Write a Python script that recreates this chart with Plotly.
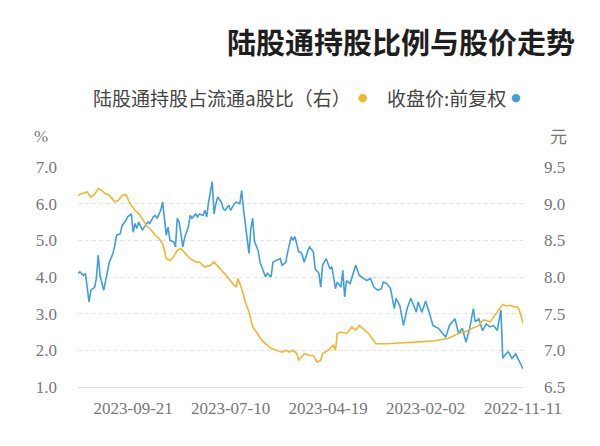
import pandas as pd
import plotly.graph_objects as go

# ---- data -------------------------------------------------------------
title_text = "陆股通持股比例与股价走势"
name_price = "收盘价:前复权"
name_ratio = "陆股通持股占流通a股比（右）"

start_date = "2022-11-11"
end_date = "2023-11-10"
holidays = ["2023-01-02", "2023-01-23", "2023-01-24", "2023-01-25", "2023-01-26",
            "2023-01-27", "2023-04-05", "2023-05-01", "2023-05-02", "2023-05-03",
            "2023-06-22", "2023-06-23", "2023-09-29", "2023-10-02", "2023-10-03",
            "2023-10-04", "2023-10-05", "2023-10-06"]
tick_dates = ["2022-11-11", "2023-02-02", "2023-04-19", "2023-07-10", "2023-09-21"]

# trading-day index -> value (closing price, 元)
price_day = [0, 2, 4, 6, 8, 10, 11, 12, 14, 16, 18, 20, 22, 24, 26, 27, 29, 31, 33, 35,
             37, 40, 42, 46, 49, 51, 53, 55, 57, 58, 60, 61, 63, 65, 67, 69, 70, 72, 74, 76,
             77, 79, 81, 83, 85, 87, 89, 91, 93, 94, 96, 97, 98, 99, 101, 102, 103, 104, 105, 107,
             109, 110, 111, 113, 114, 116, 117, 119, 120, 121, 122, 124, 125, 126, 128, 129, 131, 132, 134, 136,
             137, 139, 140, 142, 143, 144, 146, 147, 148, 149, 151, 152, 153, 154, 156, 157, 159, 160, 162, 163,
             164, 166, 167, 168, 169, 171, 172, 173, 174, 176, 177, 178, 180, 181, 182, 184, 185, 187, 188, 189,
             190, 192, 193, 194, 195, 196, 197, 199, 200, 201, 203, 204, 206, 207, 209, 210, 211, 212, 213, 215,
             216, 218, 219, 221, 222, 223, 225, 226, 228, 230, 231, 232, 233, 235, 236, 237, 238, 239, 241, 242]
price_val = [6.75, 6.84, 6.95, 6.89, 6.98, 6.93, 6.89, 7.55, 7.27, 7.34, 7.32, 7.36, 7.27, 7.43, 7.39, 7.57, 7.30, 7.11, 7.30, 7.23,
             7.43, 7.34, 7.18, 7.30, 7.34, 7.52, 7.67, 7.52, 7.66, 7.52, 7.66, 7.71, 7.57, 7.34, 7.61, 7.71, 7.57, 7.84, 7.91, 7.93,
             7.84, 7.82, 7.86, 7.98, 7.95, 7.98, 8.02, 8.16, 7.98, 7.91, 7.95, 7.73, 8.09, 7.86, 7.93, 7.84, 8.00, 8.14, 8.11, 8.25,
             8.16, 7.86, 8.05, 8.11, 8.34, 8.41, 8.36, 8.20, 8.30, 8.34, 8.34, 8.55, 8.50, 8.55, 8.34, 8.20, 8.16, 8.25, 8.23, 8.20,
             8.00, 8.05, 8.00, 8.14, 8.20, 8.36, 8.48, 8.80, 8.66, 8.32, 8.70, 8.93, 9.18, 9.00, 9.02, 9.00, 8.91, 8.98, 8.91, 8.93,
             9.02, 9.09, 9.00, 8.86, 9.30, 9.02, 8.82, 8.91, 8.84, 8.86, 8.82, 8.86, 8.80, 8.84, 8.68, 8.54, 8.41, 8.75, 8.80, 8.41,
             8.48, 8.50, 8.68, 8.57, 8.80, 9.02, 8.91, 8.80, 8.84, 8.82, 8.73, 8.75, 8.68, 8.64, 8.75, 8.66, 8.73, 8.61, 8.86, 8.82,
             8.77, 8.70, 8.59, 8.57, 8.43, 8.32, 8.20, 8.07, 7.82, 8.02, 8.30, 7.98, 7.86, 7.82, 7.66, 7.86, 8.05, 8.02, 8.07, 8.05]

# trading-day index -> value (陆股通 share of float, %)
ratio_day = [0, 2, 3, 5, 7, 9, 11, 12, 14, 16, 18, 20, 22, 24, 28, 32, 35, 41, 50, 60,
             67, 74, 80, 82, 84, 87, 89, 91, 93, 96, 99, 101, 102, 103, 104, 106, 109, 110, 112, 114,
             116, 119, 120, 122, 123, 125, 127, 129, 131, 134, 137, 139, 142, 145, 147, 149, 151, 153, 155, 156,
             157, 160, 163, 166, 168, 170, 173, 176, 178, 181, 184, 186, 188, 190, 192, 194, 195, 196, 198, 200,
             202, 204, 205, 207, 209, 211, 213, 215, 216, 218, 220, 222, 225, 227, 229, 231, 233, 235, 237, 240, 242]
ratio_val = [2.74, 3.10, 3.18, 3.18, 3.23, 3.21, 3.25, 3.18, 3.05, 2.91, 2.77, 2.82, 2.82, 2.68, 2.59, 2.50, 2.46, 2.32, 2.25, 2.23,
             2.20, 2.18, 2.18, 2.32, 2.46, 2.59, 2.68, 2.55, 2.64, 2.46, 2.50, 2.46, 2.00, 2.14, 2.09, 2.00, 1.91, 1.73, 1.68, 1.86,
             1.86, 1.91, 1.84, 1.73, 1.91, 2.00, 1.95, 2.00, 1.95, 2.00, 2.05, 2.14, 2.27, 2.50, 2.64, 3.05, 3.32, 3.68, 3.96, 3.73,
             3.77, 3.96, 4.14, 4.32, 4.41, 4.32, 4.27, 4.41, 4.41, 4.50, 4.68, 4.77, 4.73, 4.55, 4.45, 4.50, 4.73, 4.91, 5.05, 5.14,
             5.27, 5.36, 5.41, 5.59, 5.73, 5.82, 5.95, 6.14, 6.25, 6.23, 6.09, 6.05, 6.23, 6.27, 6.36, 6.41, 6.25, 6.18, 6.32, 6.27, 6.23]

# ---- trading calendar --------------------------------------------------
hol = set(pd.to_datetime(holidays))
trading_days = [d for d in pd.bdate_range(start_date, end_date) if d not in hol]
price_x = [trading_days[i] for i in price_day]
ratio_x = [trading_days[i] for i in ratio_day]

BLUE = "#3f9fdc"
YELLOW = "#f2b52e"
TICK_FONT = dict(family="Liberation Serif", size=17, color="#777777")
CJK = "Noto Sans CJK SC"

fig = go.Figure()
fig.add_trace(go.Scatter(x=price_x, y=price_val, mode="lines", name=name_price,
                         line=dict(color=BLUE, width=1.6), yaxis="y"))
fig.add_trace(go.Scatter(x=ratio_x, y=ratio_val, mode="lines", name=name_ratio,
                         line=dict(color=YELLOW, width=1.6), yaxis="y2"))

fig.update_layout(
    width=600, height=446,
    margin=dict(l=78, r=77, t=167, b=59),
    paper_bgcolor="white", plot_bgcolor="white",
    showlegend=False,
    title=dict(text="<b>" + title_text + "</b>", xref="container", yref="container",
               x=575 / 600, xanchor="right", y=1 - 44 / 446, yanchor="middle",
               font=dict(family=CJK, size=29, color="#1e1e1e")),
    xaxis=dict(type="date", range=[end_date, start_date],
               rangebreaks=[dict(bounds=["sat", "mon"]), dict(values=holidays)],
               tickvals=tick_dates, ticktext=tick_dates, tickfont=TICK_FONT,
               showgrid=False, showline=True, linecolor="#dcdcdc", linewidth=1,
               ticks="", ticklabelstandoff=6, zeroline=False),
    yaxis=dict(side="right", range=[6.5, 9.5], dtick=0.5, tickformat=".1f",
               tickfont=TICK_FONT, showgrid=True, gridcolor="#e3e3e3", griddash="4px,3px",
               gridwidth=1, zeroline=False, ticks="", ticklabelstandoff=20),
    yaxis2=dict(side="left", overlaying="y", range=[1, 7], dtick=1, tickformat=".1f",
                tickfont=TICK_FONT, showgrid=False, zeroline=False, ticks="",
                ticklabelstandoff=20),
    annotations=[
        dict(text="%", xref="paper", yref="paper", x=(50 - 78) / 445, y=(387 - 136) / 220,
             xanchor="right", yanchor="middle", showarrow=False, font=TICK_FONT),
        dict(text="元", xref="paper", yref="paper", x=(548 - 78) / 445, y=(387 - 135.5) / 220,
             xanchor="left", yanchor="middle", showarrow=False,
             font=dict(family=CJK, size=17, color="#777777")),
        dict(text=name_price, xref="paper", yref="paper", x=(508 - 78) / 445, y=(387 - 97) / 220,
             xanchor="right", yanchor="middle", showarrow=False,
             font=dict(family=CJK, size=19, color="#444444")),
        dict(text="●", xref="paper", yref="paper", x=(516 - 78) / 445, y=(387 - 97) / 220,
             xanchor="center", yanchor="middle", showarrow=False,
             font=dict(family="DejaVu Sans", size=11, color=BLUE)),
        dict(text=name_ratio, xref="paper", yref="paper", x=(353 - 78) / 445, y=(387 - 97) / 220,
             xanchor="right", yanchor="middle", showarrow=False,
             font=dict(family=CJK, size=19, color="#444444")),
        dict(text="●", xref="paper", yref="paper", x=(363 - 78) / 445, y=(387 - 97) / 220,
             xanchor="center", yanchor="middle", showarrow=False,
             font=dict(family="DejaVu Sans", size=11, color=YELLOW)),
    ],
)

fig.write_html("out.html")
